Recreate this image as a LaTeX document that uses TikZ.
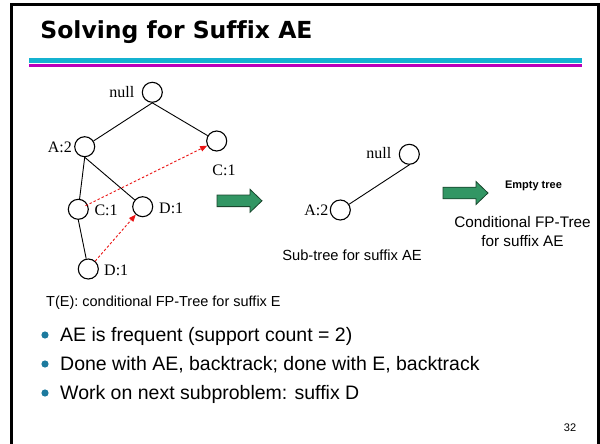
\documentclass[tikz,border=0pt]{standalone}
\usepackage{fontspec}
\setmainfont[Ligatures=NoCommon]{Liberation Serif}
\newfontfamily\arialf[Ligatures=NoCommon]{Liberation Sans}
\newfontfamily\titlef[Ligatures=NoCommon]{DejaVu Sans}
\usetikzlibrary{arrows.meta,calc}
\definecolor{cyanl}{RGB}{20,178,208}
\definecolor{magl}{RGB}{185,0,185}
\definecolor{garrow}{RGB}{50,150,100}
\definecolor{garrowd}{RGB}{25,70,45}
\definecolor{bulletc}{RGB}{28,122,158}
\definecolor{redd}{RGB}{235,20,20}
\tikzset{
  treenode/.style={circle,draw,line width=1.1pt,minimum size=20pt,inner sep=0pt},
  edge/.style={line width=0.9pt},
  serlab/.style={inner sep=0pt,font=\fontsize{16}{19}\selectfont},
  redarr/.style={draw=redd,line width=0.9pt,dash pattern=on 2.5pt off 2pt,
     -{Triangle[length=7pt,width=5.5pt,fill=redd]}},
  sans/.style={inner sep=0pt,font=\arialf\fontsize{#1}{#1}\selectfont},
  bigarrow/.style={fill=garrow,draw=garrowd,line width=0.8pt,line join=miter},
  bullettext/.style={inner sep=0pt,anchor=base west,font=\arialf\fontsize{19.5}{23}\selectfont}
}
\begin{document}
\begin{tikzpicture}[x=1pt,y=-1pt]
\useasboundingbox (0,0) rectangle (600,444);
\fill[white] (0,0) rectangle (600,444);
% frame
\draw[line width=2.4pt] (11.3,450) -- (11.3,4.5) -- (598.3,4.5) -- (598.3,450);
% title
\node[anchor=base west,inner sep=0pt,font=\titlef\bfseries\fontsize{23.5}{28}\selectfont] (title) at (40.2,38.3) {Solving for Suffix AE};
\fill[cyanl] (29,58) rectangle (582,62.7);
\fill[magl] (29,64) rectangle (582,67.3);

% tree 1
\node[treenode] (n0) at (152.3,92.3) {};
\node[treenode] (a2) at (84.7,146.7) {};
\node[treenode] (c1r) at (216.7,141) {};
\node[treenode] (c1l) at (78.3,209.3) {};
\node[treenode] (d1m) at (142.7,206.7) {};
\node[treenode] (d1b) at (88.3,269) {};
\draw[edge] (n0.south) -- (a2);
\draw[edge] (n0.south) -- (c1r);
\draw[edge] (a2.south) -- (c1l);
\draw[edge] (a2.south) -- (d1m);
\draw[edge] (c1l.south) -- (d1b);
\node[serlab,anchor=base east] (ln0) at (134.5,97) {null};
\node[serlab,anchor=base east] (la2) at (72,152) {A:2};
\node[serlab,anchor=base] (lc1r) at (224,175.5) {C:1};
\node[serlab,anchor=base west] (lc1l) at (94.3,215) {C:1};
\node[serlab,anchor=base west] (ld1m) at (159,213) {D:1};
\node[serlab,anchor=base west] (ld1b) at (104,275) {D:1};
\draw[redarr,shorten <=8pt] (c1l.center) -- (c1r);
\draw[redarr] (d1b) -- (d1m);

% arrow 1
\draw[bigarrow] (217,195) -- (250,195) -- (250,189.3) -- (262,200.8) -- (250,212.3) -- (250,206.6) -- (217,206.6) -- cycle;

% sub-tree
\node[treenode] (s0) at (409.3,154.3) {};
\node[treenode] (sa2) at (340.3,210) {};
\draw[edge] (s0.south) -- (sa2);
\node[serlab,anchor=base east] (ls0) at (391.5,158.5) {null};
\node[serlab,anchor=base east] (lsa2) at (328.5,215.5) {A:2};
\node[sans=14.7] (subt) at (352,255) {Sub-tree for suffix AE};

% arrow 2
\draw[bigarrow] (443,187.2) -- (476,187.2) -- (476,181.5) -- (488,193) -- (476,204.5) -- (476,198.8) -- (443,198.8) -- cycle;
\node[sans=11,font=\arialf\bfseries\fontsize{11}{11}\selectfont] (empty) at (533.5,185.5) {Empty tree};
\node[sans=15.3] (cond1) at (522.5,221.7) {Conditional FP-Tree};
\node[sans=15.3] (cond2) at (522.5,240.7) {for suffix AE};

% caption
\node[sans=14.5,anchor=base west] (te) at (46,306) {T(E): conditional FP-Tree for suffix E};

% bullets
\fill[bulletc] (45,335) circle (3.6);
\fill[bulletc] (45,364) circle (3.6);
\fill[bulletc] (45,393) circle (3.6);
\node[bullettext] (b1) at (60,341.7) {AE is frequent (support count = 2)};
\node[bullettext] (b2) at (60,370.7) {Done with AE, backtrack; done with E, backtrack};
\node[bullettext] (b3) at (60,399.7) {Work on next subproblem: suffix D};

\node[sans=11] (pg) at (570,427.5) {32};
\end{tikzpicture}
\end{document}
